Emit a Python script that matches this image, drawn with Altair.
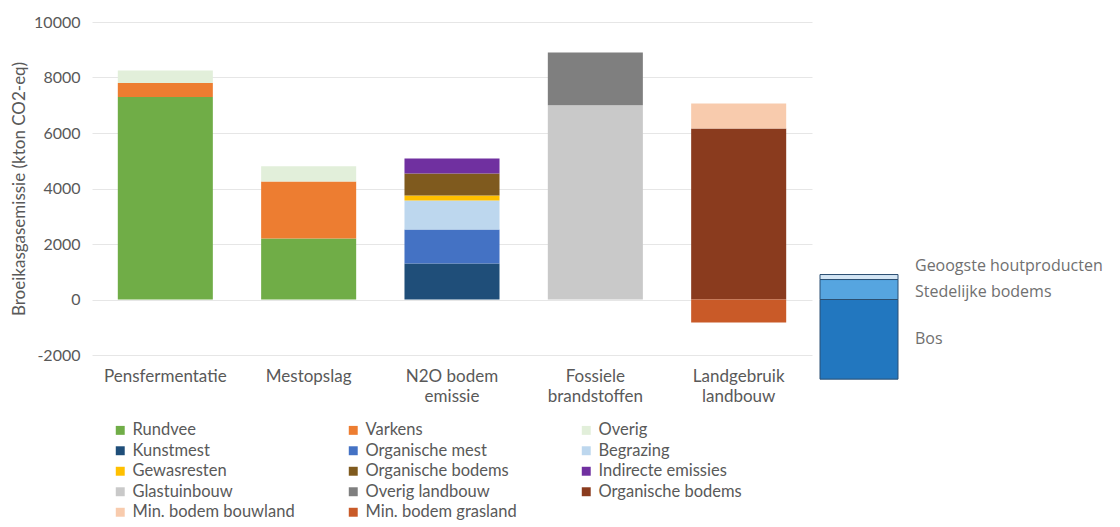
import altair as alt
import pandas as pd

# ---- data ----
categories = ["Pensfermentatie", "Mestopslag", "N2O bodem emissie",
              "Fossiele brandstoffen", "Landgebruik landbouw"]

# series in stacking order (bottom to top)
series = ["Rundvee", "Varkens", "Overig",
          "Kunstmest", "Organische mest", "Begrazing",
          "Gewasresten", "Organische bodems", "Indirecte emissies",
          "Glastuinbouw", "Overig landbouw", "Organische bodems ",
          "Min. bodem bouwland", "Min. bodem grasland"]
series_colors = ["#70AD47", "#ED7D31", "#E2EFDA",
                 "#1F4E79", "#4472C4", "#BDD7EE",
                 "#FFC000", "#7F5A1E", "#7030A0",
                 "#C9C9C9", "#7F7F7F", "#8A3B1E",
                 "#F8CBAD", "#C95A28"]

# legend reading order: three columns, filled top to bottom
legend_col1 = ["Rundvee", "Kunstmest", "Gewasresten", "Glastuinbouw", "Min. bodem bouwland"]
legend_col2 = ["Varkens", "Organische mest", "Organische bodems", "Overig landbouw", "Min. bodem grasland"]
legend_col3 = ["Overig", "Begrazing", "Indirecte emissies", "Organische bodems "]

seg_category = ["Pensfermentatie", "Pensfermentatie", "Pensfermentatie",
                "Mestopslag", "Mestopslag", "Mestopslag",
                "N2O bodem emissie", "N2O bodem emissie", "N2O bodem emissie",
                "N2O bodem emissie", "N2O bodem emissie", "N2O bodem emissie",
                "Fossiele brandstoffen", "Fossiele brandstoffen",
                "Landgebruik landbouw", "Landgebruik landbouw", "Landgebruik landbouw"]
seg_series = ["Rundvee", "Varkens", "Overig",
              "Rundvee", "Varkens", "Overig",
              "Kunstmest", "Organische mest", "Begrazing",
              "Gewasresten", "Organische bodems", "Indirecte emissies",
              "Glastuinbouw", "Overig landbouw",
              "Organische bodems ", "Min. bodem bouwland", "Min. bodem grasland"]
seg_value = [7300, 500, 450,
             2200, 2050, 550,
             1300, 1220, 1050,
             180, 790, 540,
             7000, 1900,
             6160, 900, -830]

bos_series = ["Bos", "Stedelijke bodems", "Geoogste houtproducten"]
bos_value = [-2870, 720, 180]
bos_colors = ["#2277BF", "#56A5E0", "#D3E5F4"]

y_ticks = [-2000, 0, 2000, 4000, 6000, 8000, 10000]

FONT = "Lato"
GREY = "#595959"

legend_order = legend_col1 + legend_col2 + legend_col3
legend_colors = [series_colors[series.index(s)] for s in legend_order]

df = pd.DataFrame({
    "categorie": seg_category,
    "bron": seg_series,
    "waarde": seg_value,
    "volgorde": [series.index(s) for s in seg_series],
})

dfb = pd.DataFrame({
    "groep": ["Bos"] * len(bos_series),
    "bron": bos_series,
    "waarde": bos_value,
    "kleur": bos_colors,
    "volgorde": list(range(len(bos_series))),
})

yscale = alt.Scale(domain=[-2000, 10000], nice=False, zero=False)

label_expr = ("lastindexof(datum.value, ' ') > 0 ? "
              "[substring(datum.value, 0, lastindexof(datum.value, ' ')), "
              "substring(datum.value, lastindexof(datum.value, ' ') + 1)] : datum.value")

main = alt.Chart(df).mark_bar().encode(
    x=alt.X("categorie:N", sort=categories,
            scale=alt.Scale(paddingInner=0.337, paddingOuter=0.18),
            axis=alt.Axis(title=None, labelAngle=0, domain=False, ticks=False,
                          labelPadding=13, labelFontSize=17, labelColor=GREY,
                          labelFont=FONT, labelExpr=label_expr, labelLineHeight=20,
                          labelBaseline="top")),
    y=alt.Y("waarde:Q", stack="zero", scale=yscale,
            axis=alt.Axis(values=y_ticks, labelExpr="datum.value + ''",
                          grid=True, gridColor="#E6E6E6",
                          domain=False, ticks=False, labelPadding=12,
                          labelFontSize=16, labelColor=GREY, labelFont=FONT,
                          title="Broeikasgasemissie (kton CO2-eq)",
                          titleFont=FONT, titleFontSize=17, titleFontWeight="normal",
                          titleColor=GREY, titlePadding=5)),
    color=alt.Color("bron:N",
                    scale=alt.Scale(domain=legend_order, range=legend_colors),
                    legend=alt.Legend(orient="none", legendX=20, legendY=400,
                                      columns=3, title=None, symbolType="square",
                                      symbolSize=80, symbolStrokeWidth=0,
                                      labelFontSize=16.5, labelColor=GREY, labelFont=FONT,
                                      labelLimit=300, columnPadding=50, rowPadding=3.5,
                                      gridAlign="all")),
    order=alt.Order("volgorde:Q", sort="ascending"),
).properties(width=720, height=333)

bos_bars = alt.Chart(dfb).mark_bar(stroke="#2B4F72", strokeWidth=1).encode(
    x=alt.X("groep:N", axis=None, scale=alt.Scale(paddingInner=0, paddingOuter=0)),
    y=alt.Y("waarde:Q", stack="zero", scale=yscale, axis=None),
    color=alt.Color("kleur:N", scale=None, legend=None),
    order=alt.Order("volgorde:Q", sort="ascending"),
)

bos_text = alt.Chart(dfb).transform_stack(
    stack="waarde", groupby=["groep"], as_=["y0", "y1"],
    sort=[alt.SortField("volgorde", order="ascending")]
).transform_calculate(
    mid=("(datum.y0 + datum.y1) / 2 + "
         "(datum.bron == 'Geoogste houtproducten' ? 400 : "
         "(datum.bron == 'Stedelijke bodems' ? -80 : 0))")
).mark_text(align="left", baseline="middle", dx=17, fontSize=16,
            font="Open Sans", color="#707070").encode(
    x=alt.X("groep:N", axis=None, bandPosition=1),
    y=alt.Y("mid:Q", scale=yscale, axis=None),
    text="bron:N",
)

right = alt.layer(bos_bars, bos_text).properties(width=78, height=333)

chart = alt.hconcat(main, right, spacing=8, bounds="flush").resolve_scale(
    color="independent"
).properties(
    padding={"left": 2, "top": 6, "right": 5, "bottom": 0}
).configure_view(stroke=None)

chart.save("out.html", embed_options={"renderer": "svg", "actions": False})
